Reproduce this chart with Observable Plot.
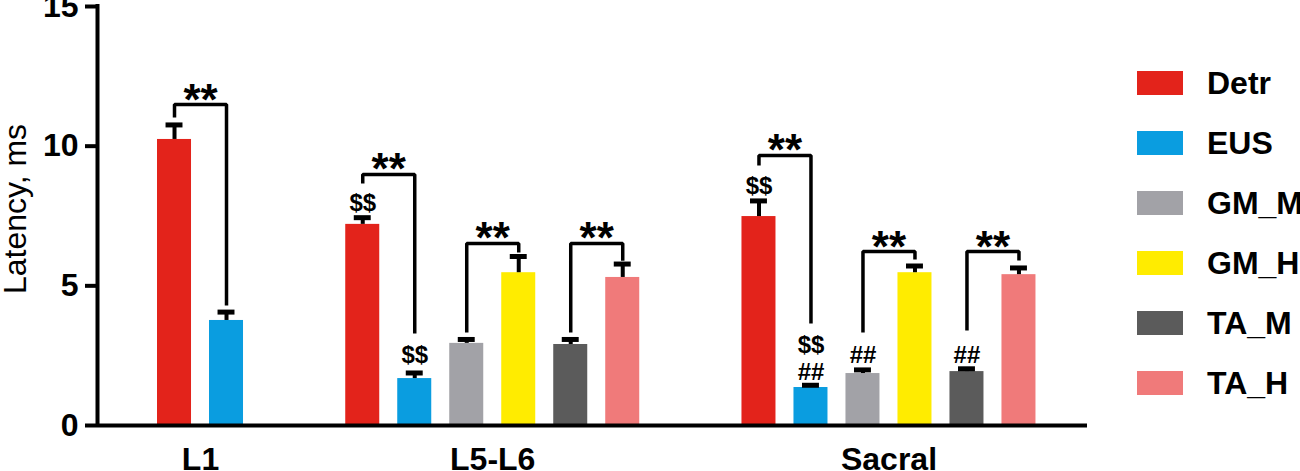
<!DOCTYPE html>
<html>
<head>
<meta charset="utf-8">
<script src="https://cdn.jsdelivr.net/npm/d3@7"></script>
<script src="https://cdn.jsdelivr.net/npm/@observablehq/plot@0.6"></script>
<style>
  html, body { margin: 0; padding: 0; background: #fff; overflow: hidden; }
  #wrap { position: relative; width: 1300px; height: 471px; font-family: "Liberation Sans", Arial, sans-serif; }
  #legend { position: absolute; left: 1137px; top: 71px; }
  .item { display: flex; align-items: center; height: 24px; margin-bottom: 36px; white-space: nowrap; }
  .sw { width: 46px; height: 24px; margin-right: 24px; flex: none; }
  .lab { font-size: 32px; font-weight: bold; line-height: 32px; color: #000; }
</style>
</head>
<body>
<div id="wrap"><div id="legend"></div></div>
<script>
// ---- data ----
const groups = ["L1", "L5-L6", "Sacral"];
const muscles = ["Detr", "EUS", "GM_M", "GM_H", "TA_M", "TA_H"];
const colors = ["#e3231b", "#0a9de0", "#a2a2a7", "#ffec00", "#5b5b5b", "#f07a7a"];
const l1Muscles = ["Detr", "EUS"];
const l1Means = [10.24, 3.76];
const l1Sem = [0.52, 0.30];
const l5Means = [7.20, 1.68, 2.94, 5.47, 2.90, 5.30];
const l5Sem = [0.24, 0.20, 0.14, 0.58, 0.18, 0.48];
const sacralMeans = [7.48, 1.36, 1.86, 5.47, 1.93, 5.40];
const sacralSem = [0.56, 0.08, 0.13, 0.24, 0.10, 0.24];
const yTicks = [0, 5, 10, 15];
const yLabel = "Latency, ms";

// significance brackets
const bracketGroups = ["L1", "L5-L6", "L5-L6", "L5-L6", "Sacral", "Sacral", "Sacral"];
const bracketLeft = ["Detr", "Detr", "GM_M", "TA_M", "Detr", "GM_M", "TA_M"];
const bracketRight = ["EUS", "EUS", "GM_H", "TA_H", "EUS", "GM_H", "TA_H"];
const bracketTop = [11.49, 8.99, 6.52, 6.52, 9.67, 6.23, 6.23];
const bracketLeftEnd = [11.03, 8.66, 3.33, 3.33, 9.31, 3.33, 3.40];
const bracketRightEnd = [4.30, 3.29, 6.19, 5.90, 3.65, 5.94, 5.91];
const bracketText = ["**", "**", "**", "**", "**", "**", "**"];

// other markers
const markGroups = ["L5-L6", "L5-L6", "Sacral", "Sacral", "Sacral", "Sacral", "Sacral"];
const markMuscles = ["Detr", "EUS", "Detr", "EUS", "EUS", "GM_M", "TA_M"];
const markTexts = ["$$", "$$", "$$", "$$", "##", "##", "##"];
const markY = [7.95, 2.51, 8.56, 2.86, 1.90, 2.51, 2.51];

// ---- layout (slot units) ----
const groupGap = 1.62;
const barW = 0.654;
const groupMuscles = {"L1": l1Muscles, "L5-L6": muscles, "Sacral": muscles};
const groupStart = {};
{
  let s = 0;
  for (const g of groups) { groupStart[g] = s; s += groupMuscles[g].length + groupGap; }
}
const center = (g, m) => groupStart[g] + groupMuscles[g].indexOf(m) + barW / 2;
const groupCenter = g => groupStart[g] + (groupMuscles[g].length - 1 + barW) / 2;
const xDomain = [-1.154, 17.885];

const rows = [];
[[ "L1", l1Muscles, l1Means, l1Sem ], [ "L5-L6", muscles, l5Means, l5Sem ], [ "Sacral", muscles, sacralMeans, sacralSem ]]
  .forEach(([g, ms, means, sems]) => ms.forEach((m, i) => rows.push({group: g, muscle: m, mean: means[i], sem: sems[i], c: center(g, m)})));

const bracketPts = [];
bracketGroups.forEach((g, i) => {
  const xl = center(g, bracketLeft[i]), xr = center(g, bracketRight[i]);
  bracketPts.push({id: i, x: xl, y: bracketLeftEnd[i]});
  bracketPts.push({id: i, x: xl, y: bracketTop[i]});
  bracketPts.push({id: i, x: xr, y: bracketTop[i]});
  bracketPts.push({id: i, x: xr, y: bracketRightEnd[i]});
});
const stars = bracketGroups.map((g, i) => ({x: (center(g, bracketLeft[i]) + center(g, bracketRight[i])) / 2, y: bracketTop[i], t: bracketText[i]}));
const marks = markGroups.map((g, i) => ({x: center(g, markMuscles[i]), y: markY[i], t: markTexts[i]}));

const font = "'Liberation Sans', Arial, sans-serif";

const chart = Plot.plot({
  width: 1300,
  height: 471,
  marginLeft: 97,
  marginRight: 213,
  marginTop: 6,
  marginBottom: 46,
  style: {fontFamily: font, color: "#000", background: "#fff", overflow: "visible"},
  x: {domain: xDomain, axis: null},
  y: {domain: [0, 15], axis: null},
  color: {domain: muscles, range: colors},
  marks: [
    Plot.rectY(rows, {x1: d => d.c - barW / 2, x2: d => d.c + barW / 2, y1: 0, y2: "mean", fill: "muscle"}),
    Plot.ruleX(rows, {x: "c", y1: "mean", y2: d => d.mean + d.sem, stroke: "#000", strokeWidth: 4}),
    Plot.ruleY(rows, {y: d => d.mean + d.sem, x1: d => d.c - 0.163, x2: d => d.c + 0.163, stroke: "#000", strokeWidth: 5}),
    Plot.line(bracketPts, {x: "x", y: "y", z: "id", stroke: "#000", strokeWidth: 3.5, strokeLinejoin: "miter", strokeLinecap: "butt"}),
    Plot.text(stars, {x: "x", y: "y", text: "t", fontSize: 44, fontWeight: "bold", dy: -4, fill: "#000"}),
    Plot.text(marks, {x: "x", y: "y", text: "t", fontSize: 24, fontWeight: "bold", fill: "#000"}),
    Plot.axisY({ticks: yTicks, tickSize: 12, tickPadding: 7, fontSize: 32, fontWeight: "bold", strokeWidth: 4, label: null}),
    Plot.ruleX([xDomain[0]], {x: d => d, y1: 0, y2: 15, stroke: "#000", strokeWidth: 4, strokeLinecap: "square"}),
    Plot.ruleY([0], {stroke: "#000", strokeWidth: 4}),
    Plot.text(groups, {x: d => groupCenter(d), y: 0, text: d => d, fontSize: 32, fontWeight: "bold", lineAnchor: "top", dy: 22, fill: "#000"}),
    Plot.text([yLabel], {frameAnchor: "left", textAnchor: "middle", text: d => d, rotate: -90, fontSize: 32, dx: -82, dy: -7, fill: "#000"})
  ]
});
document.getElementById("wrap").prepend(chart);

const legend = document.getElementById("legend");
muscles.forEach((m, i) => {
  const it = document.createElement("div");
  it.className = "item";
  it.innerHTML = `<div class="sw" style="background:${colors[i]}"></div><div class="lab">${m}</div>`;
  legend.appendChild(it);
});
</script>
</body>
</html>
